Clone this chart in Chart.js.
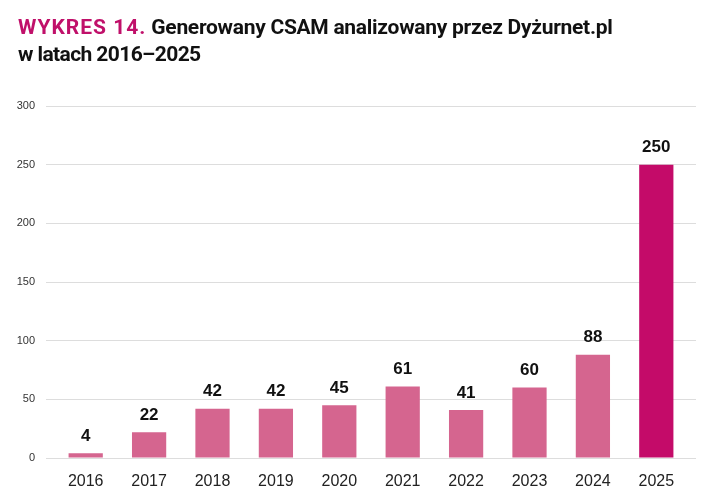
<!DOCTYPE html>
<html>
<head>
<meta charset="utf-8">
<script src="https://cdn.jsdelivr.net/npm/chart.js@4"></script>
<style>
  html, body { margin: 0; padding: 0; background: #fff; }
  #wrap { position: relative; width: 715px; height: 498px; }
  #title {
    position: absolute; left: 18px; top: 14px;
    font-family: Roboto, sans-serif; font-weight: 700; font-size: 21px;
    line-height: 27px; color: #111; letter-spacing: -0.28px;
  }
  #title .lead { color: #c0106a; letter-spacing: 1.0px; }
  #title .sub { letter-spacing: -0.6px; }
  canvas { position: absolute; left: 0; top: 0; }
</style>
</head>
<body>
<div id="wrap">
  <canvas id="myChart" width="715" height="498"></canvas>
  <div id="title"><span class="lead">WYKRES 14.</span> Generowany CSAM analizowany przez Dyżurnet.pl<br><span class="sub">w latach 2016–2025</span></div>
</div>
<script>
var years = ["2016", "2017", "2018", "2019", "2020", "2021", "2022", "2023", "2024", "2025"];
var counts = [4, 22, 42, 42, 45, 61, 41, 60, 88, 250];
var yTicks = [0, 50, 100, 150, 200, 250, 300];

var pink = "#d5658f";
var magenta = "#c40b69";
var gridColor = "#dddddd";

// ostatni rok wyróżniony
var colors = counts.map(function (v, i) {
  return i == counts.length - 1 ? magenta : pink;
});

// etykiety z wartościami nad słupkami
var valueLabels = {
  id: "valueLabels",
  afterDatasetsDraw: function (chart) {
    var ctx = chart.ctx;
    var meta = chart.getDatasetMeta(0);
    ctx.save();
    ctx.font = "bold 17px 'Liberation Sans', Arial, sans-serif";
    ctx.fillStyle = "#111";
    ctx.textAlign = "center";
    ctx.textBaseline = "middle";
    meta.data.forEach(function (bar, i) {
      ctx.fillText(String(counts[i]), bar.x, bar.y - 17);
    });
    ctx.restore();
  }
};

var ctx = document.getElementById("myChart");
var myChart = new Chart(ctx, {
  type: "bar",
  data: {
    labels: years,
    datasets: [
      {
        label: "",
        data: counts,
        backgroundColor: colors,
        barPercentage: 0.54,
        categoryPercentage: 1,
        yAxisID: "y"
      }
    ]
  },
  options: {
    responsive: false,
    animation: false,
    devicePixelRatio: 1,
    layout: { padding: { top: 106, right: 19, bottom: 0, left: 0 } },
    plugins: {
      legend: { display: false },
      tooltip: { enabled: false }
    },
    scales: {
      x: {
        afterFit: function (scale) { scale.height = 40; },
        grid: { display: false, drawTicks: false },
        border: { display: false },
        ticks: {
          color: "#222",
          padding: 14,
          maxRotation: 0,
          font: { family: "'Liberation Sans', Arial, sans-serif", size: 16 }
        }
      },
      y: {
        min: 0,
        max: 300,
        afterBuildTicks: function (scale) {
          scale.ticks = yTicks.map(function (v) { return { value: v }; });
        },
        afterFit: function (scale) { scale.width = 54; },
        grid: { color: gridColor, tickColor: gridColor, tickLength: 8, lineWidth: 1 },
        border: { display: false },
        ticks: {
          color: "#333",
          padding: 11,
          font: { family: "'Liberation Sans', Arial, sans-serif", size: 11 }
        }
      },
      y2: {
        position: "right",
        min: 0,
        max: 300,
        afterBuildTicks: function (scale) {
          scale.ticks = yTicks.map(function (v) { return { value: v }; });
        },
        afterFit: function (scale) { scale.width = 8; },
        grid: { drawOnChartArea: false, color: gridColor, tickColor: gridColor, tickLength: 8 },
        border: { display: false },
        ticks: { display: false }
      }
    }
  },
  plugins: [valueLabels]
});
</script>
</body>
</html>
